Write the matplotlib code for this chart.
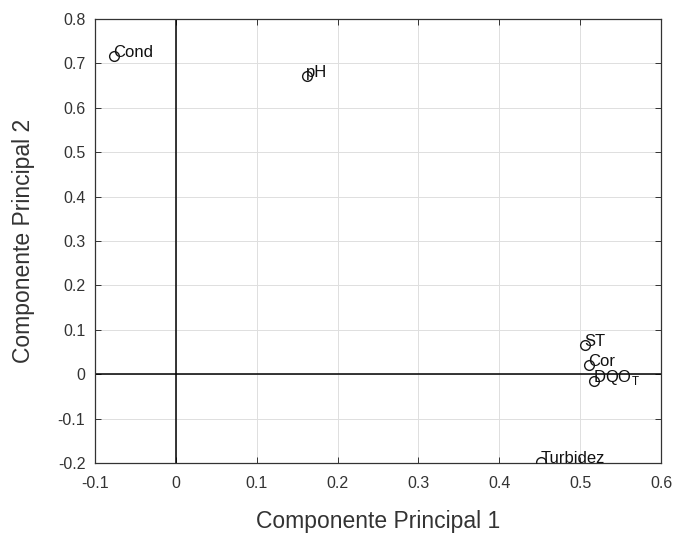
import matplotlib
matplotlib.use("Agg")
import matplotlib.pyplot as plt

plt.rcParams["font.family"] = ["Liberation Sans", "DejaVu Sans"]

# loadings
names = ["Cond", "pH", "ST", "Cor", "DQO$_{\\mathregular{T}}$", "Turbidez"]
pc1 = [-0.077, 0.162, 0.506, 0.511, 0.517, 0.452]
pc2 = [0.717, 0.672, 0.066, 0.021, -0.015, -0.198]

xticks = [-0.1, 0, 0.1, 0.2, 0.3, 0.4, 0.5, 0.6]
yticks = [-0.2, -0.1, 0, 0.1, 0.2, 0.3, 0.4, 0.5, 0.6, 0.7, 0.8]

fig = plt.figure(figsize=(6.79, 5.34), dpi=100)
ax = fig.add_axes([95 / 679, 1 - 463 / 534, 566 / 679, 444 / 534])

ax.axhline(0, color="black", lw=1.1, zorder=2)
ax.axvline(0, color="black", lw=1.1, zorder=2)
ax.plot(pc1, pc2, "o", ms=7, mfc="none", mec="#1a1a1a", mew=1.0, zorder=3)
for n, x, y in zip(names, pc1, pc2):
    ax.annotate(n, (x, y), xytext=(-0.5, -0.8), textcoords="offset points",
                ha="left", va="baseline", fontsize=12, color="#111111", zorder=4)

ax.set_xlim(-0.1, 0.6)
ax.set_ylim(-0.2, 0.8)
ax.set_xticks(xticks)
ax.set_yticks(yticks)
ax.set_xticklabels(["-0.1", "0", "0.1", "0.2", "0.3", "0.4", "0.5", "0.6"])
ax.set_yticklabels(["-0.2", "-0.1", "0", "0.1", "0.2", "0.3", "0.4", "0.5",
                    "0.6", "0.7", "0.8"])
ax.grid(True, color="#dedede", lw=0.7)
ax.set_axisbelow(True)
ax.tick_params(direction="in", top=True, right=True, length=4, width=0.7,
               labelsize=11.5, colors="#333333")
ax.tick_params(axis="x", pad=9)
ax.tick_params(axis="y", pad=7)
for s in ax.spines.values():
    s.set_color("#333333")
    s.set_linewidth(0.9)

ax.set_xlabel("Componente Principal 1", fontsize=16.5, color="#333333", labelpad=14)
ax.set_ylabel("Componente Principal 2", fontsize=16.5, color="#333333", labelpad=16)

fig.savefig("out.png", dpi=100)
